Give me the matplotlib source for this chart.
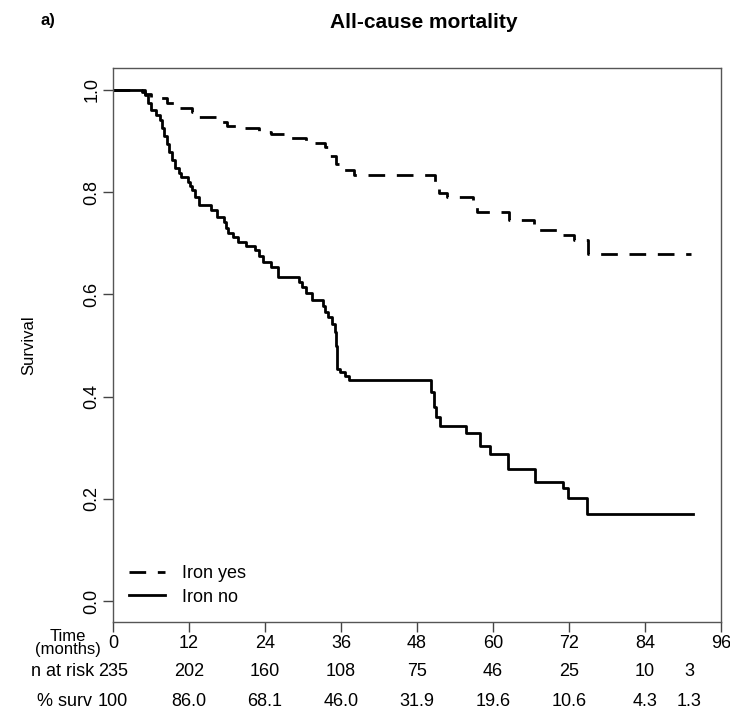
import numpy as np
import matplotlib
matplotlib.use("Agg")
import matplotlib.pyplot as plt
from matplotlib.transforms import blended_transform_factory

plt.rcParams['font.family'] = ['Liberation Sans', 'DejaVu Sans']

# Kaplan-Meier steps (months, survival)
t_yes = [0, 5.0, 6.0, 8.5, 10.0, 12.5, 13.0, 16.5, 18.0, 19.5, 23.0, 25.0, 27.0,
         30.5, 33.5, 34.2, 35.2, 35.8, 38.0, 50.8, 51.4, 52.8, 56.8, 57.5, 62.6,
         66.4, 67.0, 70.5, 72.8, 75.0, 91.2]
s_yes = [1.0, 0.993, 0.984, 0.975, 0.965, 0.956, 0.947, 0.938, 0.930, 0.926, 0.918,
         0.914, 0.906, 0.896, 0.888, 0.870, 0.855, 0.843, 0.834, 0.810, 0.798, 0.790,
         0.776, 0.761, 0.746, 0.736, 0.726, 0.716, 0.706, 0.679, 0.679]

t_no = [0, 4.5, 5.0, 5.5, 6.0, 6.8, 7.4, 7.7, 8.0, 8.5, 8.9, 9.3, 9.8, 10.4, 10.8,
        11.9, 12.2, 12.5, 12.9, 13.5, 15.5, 16.4, 17.6, 17.9, 18.2, 19.0, 19.8, 21.0,
        22.4, 23.0, 23.7, 25.0, 26.1, 29.3, 29.8, 30.5, 31.4, 33.2, 33.5, 34.0, 34.5,
        35.0, 35.2, 35.3, 35.4, 35.9, 36.6, 37.2, 50.2, 50.7, 51.0, 51.6, 55.8, 58.0,
        59.5, 62.4, 66.6, 71.1, 71.9, 74.8, 91.6]
s_no = [1.0, 0.996, 0.990, 0.975, 0.961, 0.952, 0.941, 0.925, 0.909, 0.895, 0.879,
        0.863, 0.847, 0.838, 0.830, 0.820, 0.812, 0.804, 0.790, 0.775, 0.765, 0.752,
        0.741, 0.730, 0.720, 0.712, 0.703, 0.695, 0.687, 0.676, 0.664, 0.654, 0.635,
        0.625, 0.615, 0.603, 0.589, 0.578, 0.566, 0.555, 0.543, 0.527, 0.500, 0.475,
        0.455, 0.449, 0.440, 0.432, 0.410, 0.380, 0.360, 0.342, 0.328, 0.304, 0.287,
        0.259, 0.232, 0.221, 0.201, 0.170, 0.170]

# risk table
risk_times = [0, 12, 24, 36, 48, 60, 72, 84, 91]
n_at_risk = ['235', '202', '160', '108', '75', '46', '25', '10', '3']
pct_surv = ['100', '86.0', '68.1', '46.0', '31.9', '19.6', '10.6', '4.3', '1.3']
x_ticks = [0, 12, 24, 36, 48, 60, 72, 84, 96]
y_ticks = [0.0, 0.2, 0.4, 0.6, 0.8, 1.0]

fig = plt.figure(figsize=(7.3, 7.14), dpi=100)
ax = fig.add_axes([113 / 730, 1 - 622 / 714, 608 / 730, 554 / 714])

ax.step(t_yes, s_yes, where='post', color='black', lw=2.0,
        linestyle=(0, (6.0, 4.2)), label='Iron yes')
ax.step(t_no, s_no, where='post', color='black', lw=2.0, label='Iron no')

ax.set_xlim(0, 96)
ax.set_ylim(-0.041, 1.043)
ax.set_xticks(x_ticks)
ax.set_xticklabels([str(v) for v in x_ticks], fontsize=13)
ax.set_yticks(y_ticks)
ax.set_yticklabels([f'{v:.1f}' for v in y_ticks], fontsize=13, rotation=90, va='center')
ax.tick_params(axis='both', direction='out', length=7, width=1, color='#444444')
ax.tick_params(axis='x', pad=2)
ax.tick_params(axis='y', pad=2)
for sp in ax.spines.values():
    sp.set_color('#555555')
    sp.set_linewidth(1.0)

ax.set_ylabel('Survival', fontsize=12, labelpad=34)

leg = ax.legend(loc='lower left', bbox_to_anchor=(0.0, 0.0), frameon=False,
                fontsize=13, handlelength=2.0, handletextpad=0.9, labelspacing=0.35)

fig.text(424 / 730, 1 - 22 / 714, 'All-cause mortality', ha='center', va='center',
         fontsize=15, fontweight='bold')
fig.text(48 / 730, 1 - 20 / 714, 'a)', ha='center', va='center',
         fontsize=12, fontweight='bold')

# risk table under the axis
tr = blended_transform_factory(ax.transData, fig.transFigure)
fig.text(68 / 730, 1 - 643 / 714, 'Time\n(months)', ha='center', va='center',
         fontsize=12, linespacing=0.8)
fig.text(94 / 730, 1 - 672 / 714, 'n at risk', ha='right', va='center', fontsize=13)
fig.text(92 / 730, 1 - 702 / 714, '% surv', ha='right', va='center', fontsize=13)
for t, n, p in zip(risk_times, n_at_risk, pct_surv):
    ax.text(t, 1 - 672 / 714, n, transform=tr, ha='center', va='center', fontsize=13)
    ax.text(t, 1 - 702 / 714, p, transform=tr, ha='center', va='center', fontsize=13)

fig.savefig('out.png', dpi=100)
